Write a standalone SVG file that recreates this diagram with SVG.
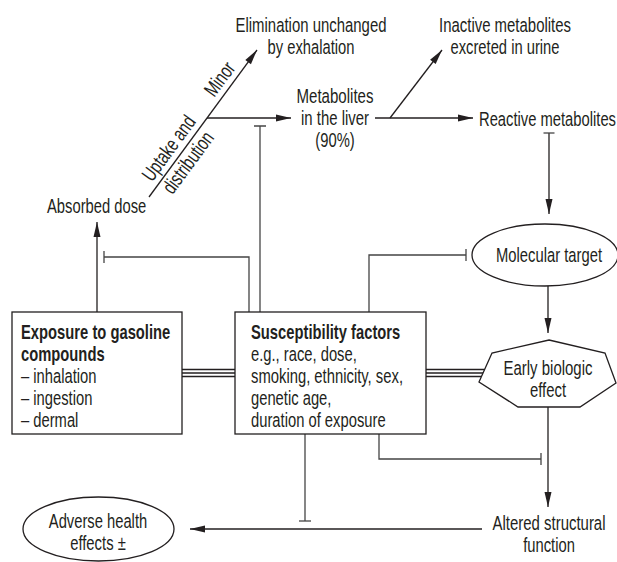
<svg xmlns="http://www.w3.org/2000/svg" width="617" height="562" viewBox="0 0 617 562">
<style>
text{font-family:"Liberation Sans",Arial,sans-serif;font-size:20.5px;fill:#231f20}
.m{text-anchor:middle}
.b{font-weight:bold}
.ln{fill:none;stroke:#231f20;stroke-width:1.3}
.ih{fill:none;stroke:#444;stroke-width:1.3}
.shape{fill:#fff;stroke:#231f20;stroke-width:1.3}
</style>
<defs>
<marker id="arr" markerUnits="userSpaceOnUse" markerWidth="16" markerHeight="8" refX="15" refY="4" orient="auto" overflow="visible">
<path d="M0,0.5 L15,4 L0,7.5 z" fill="#231f20"/>
</marker>
<marker id="bar" markerUnits="userSpaceOnUse" markerWidth="2" markerHeight="12" refX="0" refY="6" orient="auto" overflow="visible">
<path d="M0,0 L0,12" stroke="#444" stroke-width="1.3"/>
</marker>
</defs>
<rect width="617" height="562" fill="#fff"/>

<g id="connectors">
<path class="ln" d="M97,312 V222" marker-end="url(#arr)"/>
<path class="ln" d="M149,197 L257,50" marker-end="url(#arr)"/>
<path class="ln" d="M207,118 H291" marker-end="url(#arr)"/>
<path class="ln" d="M375,118 H473" marker-end="url(#arr)"/>
<path class="ln" d="M390,118 L442,50" marker-end="url(#arr)"/>
<path class="ln" d="M549,133 V214" marker-end="url(#arr)"/>
<path class="ih" d="M543.5,133 H554.5"/>
<path class="ln" d="M548,286 V333" marker-end="url(#arr)"/>
<path class="ln" d="M548,407 V507" marker-end="url(#arr)"/>
<path class="ln" d="M482,529 H190" marker-end="url(#arr)"/>
<path class="ih" d="M249,312 V257 H104" marker-end="url(#bar)"/>
<path class="ih" d="M260,312 V126" marker-end="url(#bar)"/>
<path class="ih" d="M369,312 V255 H466" marker-end="url(#bar)"/>
<path class="ih" d="M379,434 V459 H541" marker-end="url(#bar)"/>
<path class="ih" d="M305,434 V521" marker-end="url(#bar)"/>
<path class="ln" d="M182,369.5 H235 M182,373 H235 M182,376.5 H235"/>
<path class="ln" d="M426,369.5 H484.6 M426,373 H483 M426,376.5 H481.5"/>
</g>

<g id="elimination">
<text class="m" x="311" y="32" textLength="151" lengthAdjust="spacingAndGlyphs">Elimination unchanged</text>
<text class="m" x="311" y="54" textLength="87" lengthAdjust="spacingAndGlyphs">by exhalation</text>
</g>
<g id="inactive">
<text class="m" x="505" y="32" textLength="132" lengthAdjust="spacingAndGlyphs">Inactive metabolites</text>
<text class="m" x="505" y="54" textLength="109" lengthAdjust="spacingAndGlyphs">excreted in urine</text>
</g>
<g id="liver">
<text class="m" x="335" y="103" textLength="77" lengthAdjust="spacingAndGlyphs">Metabolites</text>
<text class="m" x="335" y="125" textLength="68" lengthAdjust="spacingAndGlyphs">in the liver</text>
<text class="m" x="335" y="147" textLength="39.4" lengthAdjust="spacingAndGlyphs">(90%)</text>
</g>
<g id="reactive">
<text x="479" y="126" textLength="137" lengthAdjust="spacingAndGlyphs">Reactive metabolites</text>
</g>
<g id="absorbed">
<text x="47" y="213" textLength="99.3" lengthAdjust="spacingAndGlyphs">Absorbed dose</text>
</g>
<g id="path-labels" transform="translate(149,197) rotate(-53.7)">
<text class="m" x="51" y="-6" textLength="75.5" lengthAdjust="spacingAndGlyphs">Uptake and</text>
<text class="m" x="51" y="18" textLength="71.4" lengthAdjust="spacingAndGlyphs">distribution</text>
<text class="m" x="137" y="-6" textLength="36.9" lengthAdjust="spacingAndGlyphs">Minor</text>
</g>
<g id="molecular">
<ellipse class="shape" cx="545" cy="255" rx="73" ry="31"/>
<text class="m" x="549" y="262" textLength="106" lengthAdjust="spacingAndGlyphs">Molecular target</text>
</g>
<g id="exposure">
<rect class="shape" x="12" y="312" width="170" height="122"/>
<text class="b" x="21" y="339" textLength="149.3" lengthAdjust="spacingAndGlyphs">Exposure to gasoline</text>
<text class="b" x="21" y="361" textLength="83.6" lengthAdjust="spacingAndGlyphs">compounds</text>
<text x="21" y="383" textLength="75.5" lengthAdjust="spacingAndGlyphs">– inhalation</text>
<text x="21" y="405" textLength="71.4" lengthAdjust="spacingAndGlyphs">– ingestion</text>
<text x="21" y="427" textLength="57.4" lengthAdjust="spacingAndGlyphs">– dermal</text>
</g>
<g id="susceptibility">
<rect class="shape" x="235" y="312" width="191" height="122"/>
<text class="b" x="251" y="339" textLength="149.3" lengthAdjust="spacingAndGlyphs">Susceptibility factors</text>
<text x="251" y="361" textLength="105.8" lengthAdjust="spacingAndGlyphs">e.g., race, dose,</text>
<text x="251" y="383" textLength="152" lengthAdjust="spacingAndGlyphs">smoking, ethnicity, sex,</text>
<text x="251" y="405" textLength="80.4" lengthAdjust="spacingAndGlyphs">genetic age,</text>
<text x="251" y="427" textLength="134.6" lengthAdjust="spacingAndGlyphs">duration of exposure</text>
</g>
<g id="early">
<polygon class="shape" points="549,340 605,353 616,383 580,407 518,407 479,382 492,353"/>
<text class="m" x="548" y="375" textLength="89" lengthAdjust="spacingAndGlyphs">Early biologic</text>
<text class="m" x="548" y="397" textLength="36.1" lengthAdjust="spacingAndGlyphs">effect</text>
</g>
<g id="altered">
<text class="m" x="549" y="530" textLength="113" lengthAdjust="spacingAndGlyphs">Altered structural</text>
<text class="m" x="549" y="552" textLength="51.7" lengthAdjust="spacingAndGlyphs">function</text>
</g>
<g id="adverse">
<ellipse class="shape" cx="98.5" cy="529" rx="75.5" ry="32"/>
<text class="m" x="98" y="528" textLength="98.4" lengthAdjust="spacingAndGlyphs">Adverse health</text>
<text class="m" x="98" y="550" textLength="55.7" lengthAdjust="spacingAndGlyphs">effects ±</text>
</g>
</svg>
